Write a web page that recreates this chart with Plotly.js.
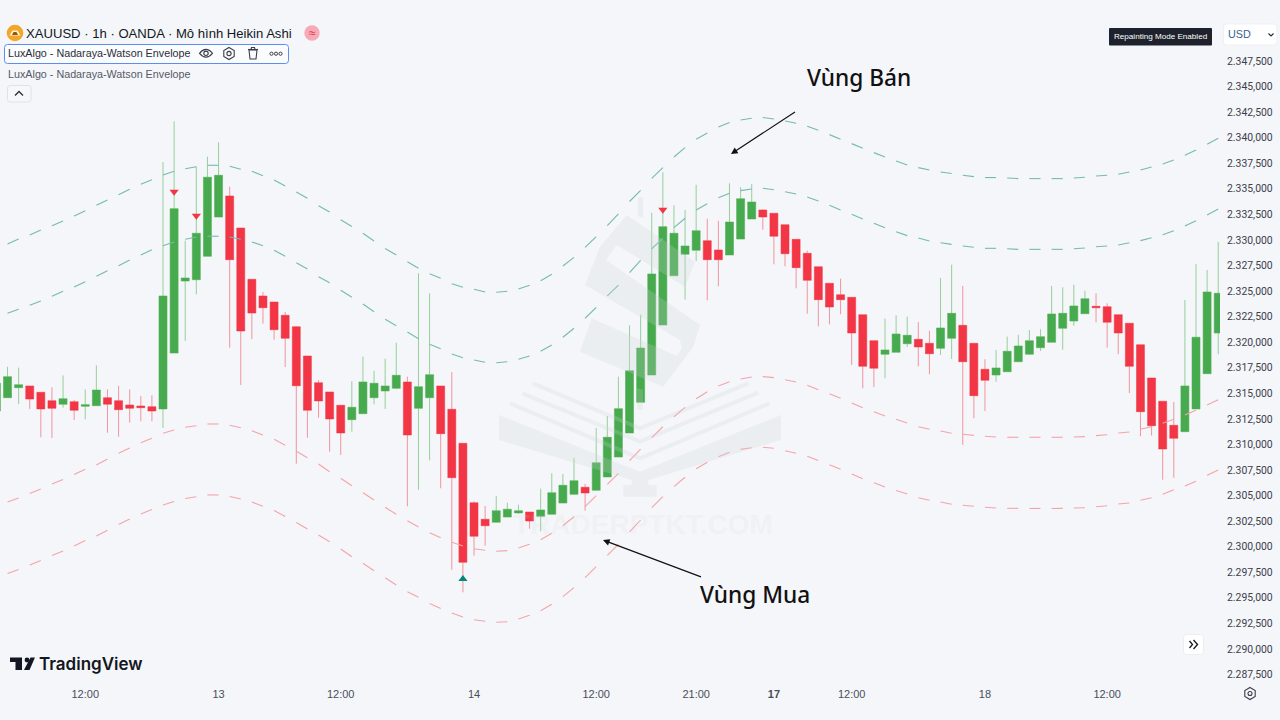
<!DOCTYPE html>
<html><head><meta charset="utf-8">
<script src="https://cdn.plot.ly/plotly-3.0.1.min.js"></script>
<style>html,body{margin:0;padding:0;background:#f4f6f9;overflow:hidden}#c{width:1280px;height:720px}</style>
</head><body><div id="c"></div>
<script>
// Heikin Ashi candles, one per bar (index 0..110)
const open_=[2313.27,2314.57,2315.55,2315.72,2315.10,2314.28,2313.93,2314.18,2313.73,2313.79,2314.57,2314.28,2313.86,2313.76,2313.69,2313.47,2318.94,2325.98,2326.11,2328.40,2332.24,2334.30,2331.17,2326.15,2324.52,2323.93,2322.63,2321.51,2318.65,2316.04,2315.13,2313.83,2312.42,2313.01,2314.57,2315.23,2315.49,2316.11,2313.53,2314.57,2315.72,2313.44,2310.11,2304.30,2302.68,2302.39,2302.90,2303.30,2303.39,2302.97,2303.17,2304.27,2305.12,2305.81,2305.52,2306.82,2308.77,2311.12,2314.12,2316.79,2321.68,2326.50,2328.60,2328.99,2329.93,2329.02,2328.53,2330.09,2332.05,2332.93,2332.61,2331.49,2330.06,2328.69,2327.38,2325.76,2324.64,2324.39,2322.69,2320.15,2318.82,2319.01,2319.85,2320.28,2319.89,2319.40,2320.38,2321.65,2319.89,2317.35,2316.79,2317.11,2318.09,2318.82,2319.46,2319.99,2321.36,2322.07,2322.79,2323.51,2323.47,2322.69,2321.85,2319.75,2316.50,2314.22,2311.87,2311.25,2313.47,2316.92,2320.90];
const high=[2316.50,2317.60,2317.51,2315.72,2315.10,2315.59,2316.76,2314.35,2315.39,2317.74,2315.39,2315.72,2315.39,2314.74,2314.81,2337.62,2341.60,2329.93,2337.16,2338.14,2339.55,2335.21,2331.17,2326.15,2324.91,2323.93,2322.95,2321.58,2318.65,2316.30,2315.13,2313.83,2316.18,2318.58,2317.21,2318.39,2319.95,2316.63,2326.74,2324.78,2315.72,2317.08,2310.11,2304.44,2303.98,2304.96,2304.30,2304.11,2303.39,2305.67,2307.18,2307.11,2308.67,2306.13,2311.61,2312.78,2316.63,2321.65,2322.69,2332.66,2336.62,2333.39,2332.93,2335.40,2332.08,2331.88,2335.54,2335.15,2335.47,2333.00,2332.61,2331.49,2330.06,2328.95,2327.38,2325.76,2326.21,2324.39,2322.69,2320.15,2322.30,2322.63,2322.49,2321.97,2321.12,2326.28,2327.58,2325.50,2319.89,2318.33,2319.24,2320.54,2320.73,2321.19,2321.26,2325.50,2325.37,2325.62,2325.04,2324.78,2323.80,2322.69,2321.85,2319.75,2316.50,2314.22,2314.15,2324.13,2327.65,2327.06,2329.80];
const low=[2313.27,2314.57,2313.96,2313.47,2310.70,2310.63,2313.59,2312.39,2312.46,2313.79,2311.15,2310.76,2312.13,2312.26,2312.26,2311.61,2318.94,2320.12,2324.68,2328.40,2332.24,2319.46,2315.81,2320.31,2321.81,2320.24,2317.57,2308.12,2310.66,2312.61,2309.29,2308.97,2311.25,2313.01,2313.93,2313.47,2315.39,2303.95,2305.57,2308.45,2305.71,2297.75,2295.54,2299.12,2300.10,2302.39,2302.90,2303.20,2301.76,2301.51,2303.17,2304.27,2305.06,2303.52,2305.52,2306.82,2308.77,2311.12,2314.12,2316.79,2321.68,2326.50,2324.16,2327.94,2324.10,2325.47,2328.53,2330.09,2332.05,2331.00,2327.62,2327.42,2325.27,2322.79,2321.55,2321.75,2322.73,2317.77,2315.49,2315.62,2316.47,2319.01,2319.53,2317.64,2316.86,2318.75,2318.36,2309.95,2312.56,2313.27,2316.14,2317.11,2318.09,2318.82,2319.14,2319.99,2319.27,2321.61,2322.79,2321.95,2319.46,2318.82,2315.03,2310.80,2310.86,2306.55,2306.75,2311.25,2313.47,2316.92,2318.82];
const close_=[2315.98,2316.63,2315.84,2314.44,2313.47,2313.53,2314.47,2313.34,2313.89,2315.32,2313.93,2313.40,2313.53,2313.59,2313.27,2324.52,2333.06,2326.28,2330.65,2336.13,2336.32,2328.07,2321.09,2322.85,2323.37,2321.22,2320.38,2315.74,2313.34,2314.25,2312.49,2311.12,2313.63,2316.11,2315.98,2315.72,2316.76,2310.92,2315.65,2316.82,2311.05,2306.75,2298.47,2301.02,2302.05,2303.52,2303.66,2303.52,2302.51,2303.59,2305.28,2306.00,2306.45,2305.25,2308.21,2310.70,2313.50,2317.21,2319.43,2326.67,2331.30,2330.65,2329.41,2330.90,2328.07,2328.07,2331.75,2334.03,2333.71,2332.24,2330.36,2328.65,2327.29,2326.05,2324.16,2323.44,2324.16,2320.90,2317.64,2317.45,2319.24,2320.80,2320.67,2319.53,2318.87,2321.39,2322.82,2318.09,2314.77,2316.27,2317.48,2319.11,2319.63,2320.15,2320.54,2322.76,2322.82,2323.54,2324.25,2323.37,2321.95,2320.90,2317.64,2313.20,2311.83,2309.55,2310.60,2315.72,2320.48,2324.91,2324.78];
// Nadaraya-Watson envelope lines, one value per bar from index 1 to 110
const upperOuter=[2329.60,2330.09,2330.48,2330.97,2331.39,2331.85,2332.34,2332.86,2333.39,2333.91,2334.42,2334.95,2335.44,2335.89,2336.35,2336.71,2336.97,2337.16,2337.30,2337.30,2337.20,2336.91,2336.71,2336.28,2335.86,2335.28,2334.69,2334.07,2333.35,2332.73,2331.98,2331.31,2330.65,2329.90,2329.16,2328.53,2327.87,2327.23,2326.70,2326.25,2325.72,2325.37,2325.17,2324.91,2324.88,2324.98,2325.20,2325.56,2326.01,2326.64,2327.45,2328.30,2329.28,2330.32,2331.39,2332.54,2333.76,2334.85,2336.03,2337.07,2338.11,2339.03,2339.84,2340.46,2341.05,2341.48,2341.73,2341.90,2341.97,2341.83,2341.63,2341.41,2341.11,2340.72,2340.30,2339.84,2339.42,2338.96,2338.54,2338.11,2337.72,2337.33,2337.07,2336.84,2336.64,2336.49,2336.32,2336.19,2336.10,2336.10,2336.06,2336.00,2336.00,2336.00,2336.00,2336.00,2336.06,2336.13,2336.25,2336.32,2336.42,2336.64,2336.84,2337.13,2337.43,2337.82,2338.28,2338.80,2339.35,2339.94];
const upperInner=[2322.83,2323.22,2323.61,2324.03,2324.49,2324.98,2325.40,2325.92,2326.44,2326.99,2327.48,2328.04,2328.53,2329.05,2329.44,2329.80,2330.06,2330.29,2330.36,2330.36,2330.29,2330.06,2329.80,2329.44,2328.99,2328.40,2327.77,2327.16,2326.41,2325.82,2325.08,2324.39,2323.73,2322.98,2322.24,2321.61,2321.00,2320.34,2319.79,2319.36,2318.84,2318.48,2318.26,2318.03,2317.99,2318.09,2318.33,2318.65,2319.11,2319.73,2320.48,2321.36,2322.34,2323.41,2324.52,2325.59,2326.80,2328.01,2329.14,2330.16,2331.20,2332.12,2332.93,2333.54,2334.13,2334.56,2334.82,2334.98,2335.05,2334.91,2334.72,2334.49,2334.20,2333.81,2333.39,2332.93,2332.51,2332.05,2331.63,2331.20,2330.81,2330.42,2330.19,2329.90,2329.73,2329.57,2329.41,2329.28,2329.18,2329.18,2329.14,2329.08,2329.08,2329.08,2329.08,2329.08,2329.14,2329.21,2329.34,2329.41,2329.51,2329.73,2329.93,2330.22,2330.51,2330.90,2331.36,2331.88,2332.44,2333.03];
const lowerInner=[2304.37,2304.76,2305.20,2305.64,2306.13,2306.57,2307.06,2307.57,2307.99,2308.58,2309.13,2309.65,2310.17,2310.60,2311.09,2311.41,2311.68,2311.83,2312.00,2312.00,2311.87,2311.64,2311.34,2310.92,2310.50,2309.92,2309.33,2308.70,2308.09,2307.33,2306.69,2305.96,2305.28,2304.57,2303.85,2303.17,2302.54,2301.93,2301.37,2300.88,2300.43,2300.07,2299.80,2299.65,2299.55,2299.61,2299.87,2300.23,2300.68,2301.31,2302.05,2302.93,2303.91,2304.99,2306.10,2307.18,2308.41,2309.55,2310.66,2311.73,2312.71,2313.63,2314.47,2315.16,2315.72,2316.14,2316.40,2316.60,2316.63,2316.53,2316.33,2316.11,2315.78,2315.35,2314.96,2314.51,2314.05,2313.59,2313.20,2312.78,2312.46,2312.10,2311.73,2311.48,2311.31,2311.09,2310.99,2310.89,2310.80,2310.73,2310.70,2310.70,2310.70,2310.70,2310.70,2310.70,2310.73,2310.76,2310.86,2310.95,2311.12,2311.22,2311.48,2311.73,2312.07,2312.46,2312.88,2313.34,2313.86,2314.38];
const lowerOuter=[2297.38,2297.77,2298.21,2298.65,2299.14,2299.58,2300.07,2300.61,2301.05,2301.60,2302.17,2302.71,2303.20,2303.64,2304.08,2304.42,2304.71,2304.89,2305.06,2305.06,2304.91,2304.66,2304.37,2303.95,2303.54,2302.95,2302.37,2301.73,2301.14,2300.49,2299.77,2299.02,2298.38,2297.65,2296.97,2296.25,2295.60,2295.05,2294.44,2293.96,2293.51,2293.12,2292.86,2292.70,2292.61,2292.66,2292.93,2293.29,2293.74,2294.37,2295.11,2295.99,2296.97,2298.04,2299.16,2300.23,2301.44,2302.61,2303.83,2304.89,2305.87,2306.79,2307.63,2308.25,2308.80,2309.23,2309.52,2309.68,2309.72,2309.62,2309.39,2309.13,2308.84,2308.43,2308.02,2307.57,2307.11,2306.65,2306.26,2305.84,2305.50,2305.15,2304.79,2304.54,2304.37,2304.15,2304.05,2303.95,2303.85,2303.78,2303.75,2303.75,2303.74,2303.74,2303.74,2303.75,2303.78,2303.81,2303.91,2304.01,2304.18,2304.27,2304.54,2304.79,2305.12,2305.57,2305.94,2306.40,2306.98,2307.50];
// signal markers
const sellBars=[16,18,60];
const sellPrices=[2334.72,2332.37,2332.96];
const buyBars=[42];
const buyPrices=[2296.84];
// tick labels
const yTickVals=[2347.5,2345,2342.5,2340,2337.5,2335,2332.5,2330,2327.5,2325,2322.5,2320,2317.5,2315,2312.5,2310,2307.5,2305,2302.5,2300,2297.5,2295,2292.5,2290,2287.5];
const yTickText=["2.347,500","2.345,000","2.342,500","2.340,000","2.337,500","2.335,000","2.332,500","2.330,000","2.327,500","2.325,000","2.322,500","2.320,000","2.317,500","2.315,000","2.312,500","2.310,000","2.307,500","2.305,000","2.302,500","2.300,000","2.297,500","2.295,000","2.292,500","2.290,000","2.287,500"];
const xTickVals=[8,20,31,43,54,63,70,77,89,100];
const xTickText=["12:00","13","12:00","14","12:00","21:00","<b>17</b>","12:00","18","12:00"];

const W=1220,H=680;
const bars=open_.map((_,i)=>i);
const px=x=>x/W, py=y=>1-y/H;
const pt=(x,y)=>px(x).toFixed(5)+' '+py(y).toFixed(5);
const poly=(pts,close=true)=>'M'+pts.map(p=>pt(p[0],p[1])).join(' L')+(close?' Z':'');
const shape=(path,fill,line,lw,layer)=>({type:'path',xref:'paper',yref:'paper',path,fillcolor:fill||'rgba(0,0,0,0)',line:{color:line||'rgba(0,0,0,0)',width:lw||0},layer:layer||'above'});
const rrect=(x0,y0,x1,y1,r)=>`M${pt(x0+r,y0)} L${pt(x1-r,y0)} Q${pt(x1,y0)} ${pt(x1,y0+r)} L${pt(x1,y1-r)} Q${pt(x1,y1)} ${pt(x1-r,y1)} L${pt(x0+r,y1)} Q${pt(x0,y1)} ${pt(x0,y1-r)} L${pt(x0,y0+r)} Q${pt(x0,y0)} ${pt(x0+r,y0)} Z`;
const circ=(cx,cy,r,fill,line,lw)=>({type:'circle',xref:'paper',yref:'paper',x0:px(cx-r),x1:px(cx+r),y0:py(cy+r),y1:py(cy-r),fillcolor:fill||'rgba(0,0,0,0)',line:{color:line||'rgba(0,0,0,0)',width:lw||0},layer:'above'});
const label=(x,y,text,size,color,anchor,family,weight)=>({xref:'paper',yref:'paper',x:px(x),y:py(y),text,showarrow:false,xanchor:anchor||'left',yanchor:'middle',align:anchor||'left',font:{size,color,family:family||'"Liberation Sans"',weight:weight||400}});

function envelope(values,color){
  const xs=[],ys=[];
  for(let k=0;k+1<values.length;k+=2){xs.push(k+1,k+2,null);ys.push(values[k],values[k+1],null);}
  return {type:'scatter',mode:'lines',x:xs,y:ys,line:{color,width:1.1},connectgaps:false,hoverinfo:'skip'};
}
const TEAL='#74bab3',SALMON='#f6a3a8';
const wm='rgba(208,211,214,0.23)';
const traces=[
  envelope(upperOuter,TEAL),envelope(upperInner,TEAL),envelope(lowerInner,SALMON),envelope(lowerOuter,SALMON),
  {type:'candlestick',x:bars,open:open_,high,low,close:close_,whiskerwidth:0,
   increasing:{line:{color:'rgba(76,175,80,0.55)',width:1},fillcolor:'#47aa4e'},
   decreasing:{line:{color:'rgba(242,54,69,0.5)',width:1},fillcolor:'#f23645'},hoverinfo:'skip'},
  {type:'scatter',mode:'markers',x:sellBars,y:sellPrices,marker:{symbol:'triangle-down',size:8,color:'#f23645',line:{width:0}},hoverinfo:'skip'},
  {type:'scatter',mode:'markers',x:buyBars,y:buyPrices,marker:{symbol:'triangle-up',size:8,color:'#00897b',line:{width:0}},hoverinfo:'skip'}
];
const shapes=[
  // watermark: dollar sign
  shape(poly([[626.7,215],[695,261.7],[685,286.7],[616.7,245],[606,260],[700,325],[693.3,346.7],[663.3,386.7],[580,351.7],[591.7,318.3],[676.7,356],[681.7,348.3],[680,340],[585,285],[600,246.7]]),wm),
  shape(poly([[638,197],[643,197],[643,218],[638,216]]),wm),
  shape(poly([[637,388],[643,390],[643,410],[637,410]]),wm),
  // watermark: book
  shape(poly([[499,415],[640,471.7],[781,415],[781,440],[648.3,480],[648.3,485],[656.7,485],[656.7,496.7],[623.3,496.7],[623.3,485],[631.7,485],[631.7,480],[499,440]]),wm),
  shape(poly([[510,403.3],[640,458.3],[769.3,403.3]],false),null,wm,4),
  shape(poly([[522.3,393.3],[640,441.7],[758.3,392.7]],false),null,wm,4),
  shape(poly([[532.7,383.3],[640,428.3],[748.3,383.3]],false),null,wm,4),
  // header
  circ(15,33,8.3,'#f2a62b'),
  shape(poly([[9.5,35.5],[12.5,30.5],[17.5,30.5],[20.5,35.5]]),'#fff2cf'),
  shape(poly([[13.5,32],[16.5,32],[18,35],[12,35]]),'#8a5a10'),
  circ(312,33,7.7,'#f7a9b5'),
  shape(rrect(4.5,44.5,288.5,63.5,3),'#fbfcfe','#5c8eea',1),
  // eye
  shape(`M${pt(199.5,53.3)} Q${pt(206,45.5)} ${pt(212.5,53.3)} Q${pt(206,61)} ${pt(199.5,53.3)} Z`,null,'#3a3e4a',1.1),
  circ(206,53.3,2.2,null,'#3a3e4a',1.1),
  // settings
  shape(poly([[229,47.5],[234.2,50.5],[234.2,56.5],[229,59.5],[223.8,56.5],[223.8,50.5]]),null,'#3a3e4a',1.1),
  circ(229,53.5,2.1,null,'#3a3e4a',1.1),
  // trash
  shape(poly([[249,50],[250,59],[256,59],[257,50]]),null,'#3a3e4a',1.1),
  shape(poly([[248,49.5],[258,49.5]],false),null,'#3a3e4a',1.1),
  shape(poly([[251,49.5],[251.5,47.5],[254.5,47.5],[255,49.5]],false),null,'#3a3e4a',1.1),
  // more
  circ(271.5,53.7,1.6,null,'#3a3e4a',1),circ(276,53.7,1.6,null,'#3a3e4a',1),circ(280.5,53.7,1.6,null,'#3a3e4a',1),
  // collapse button
  shape(rrect(7.5,85.5,31,102,2.5),'#f6f7f9','#dfe2e7',1),
  shape(poly([[15,95.5],[19,91.5],[23,95.5]],false),null,'#2a2e39',1.3),
  // repainting tag, currency box
  shape(rrect(1109,28,1212,45.5,1),'#1e222d'),
  shape(rrect(1223.5,24,1277,45,3),'#ffffff','#eef0f3',1),
  shape(poly([[1268.5,33.5],[1271,36],[1273.5,33.5]],false),null,'#2a2e39',1.2),
  // scroll button
  shape(rrect(1183.5,634.5,1203.5,654.5,3),'#ffffff','#eceef2',1),
  shape(poly([[1189.5,641],[1192.5,644.5],[1189.5,648]],false),null,'#131722',1.3),
  shape(poly([[1193.5,640],[1197.5,644.5],[1193.5,649]],false),null,'#131722',1.3),
  // axis settings
  shape(poly([[1250,687.5],[1255.2,690.5],[1255.2,696.5],[1250,699.5],[1244.8,696.5],[1244.8,690.5]]),null,'#3a3e4a',1.1),
  circ(1250,693.5,2,null,'#3a3e4a',1.1),
  // TradingView mark
  shape(poly([[10,657.5],[22,657.5],[22,670],[15.5,670],[15.5,662],[10,662]]),'#131722'),
  circ(27,660,2.4,'#131722'),
  shape(poly([[30.5,657.5],[35,657.5],[29.5,670],[24,670]]),'#131722')
];
const annotations=[
  label(643,524,'TRADERPTKT.COM',28,'rgba(205,208,212,0.14)','center','"Liberation Sans"',700),
  label(24,33,'XAUUSD · 1h · OANDA · Mô hình Heikin Ashi',13.1,'#131722'),
  label(312,33,'≈',12,'#e0324b','center'),
  label(6,53.5,'LuxAlgo - Nadaraya-Watson Envelope',10.75,'#2a2e39'),
  label(6,73.5,'LuxAlgo - Nadaraya-Watson Envelope',10.75,'#555a66'),
  label(1160.5,36.5,'Repainting Mode Enabled',8.1,'#ffffff','center'),
  label(1226,34,'USD',10.8,'#3d5f8f'),
  label(37,664,'TradingView',17,'#131722','left','Inter',600),
  label(859,77,'Vùng Bán',22.7,'#111111','center','"Noto Sans"',500),
  label(755,594,'Vùng Mua',22.7,'#111111','center','"Noto Sans"',500),
  {xref:'paper',yref:'paper',x:px(731),y:py(154),ax:67,ay:-44,text:' ',showarrow:true,arrowhead:2,arrowsize:1.1,arrowwidth:1.2,arrowcolor:'#111111'},
  {xref:'paper',yref:'paper',x:px(603),y:py(540),ax:101,ay:38,text:' ',showarrow:true,arrowhead:2,arrowsize:1.1,arrowwidth:1.2,arrowcolor:'#111111'}
];
const layout={
  width:1280,height:720,margin:{l:0,r:60,t:0,b:40,pad:0},
  paper_bgcolor:'#f4f6f9',plot_bgcolor:'#f4f6f9',showlegend:false,boxgap:0.28,boxgroupgap:0,
  xaxis:{type:'linear',range:[0.324,110.16],rangeslider:{visible:false},showgrid:false,zeroline:false,showline:false,
    tickmode:'array',tickvals:xTickVals,ticktext:xTickText,ticks:'',ticklabelstandoff:6,tickfont:{size:11,color:'#4a4e59',family:'"Liberation Sans"'},fixedrange:true},
  yaxis:{type:'linear',side:'right',range:[2286.962,2353.466],showgrid:false,zeroline:false,showline:false,
    tickmode:'array',tickvals:yTickVals,ticktext:yTickText,ticks:'',ticklabelstandoff:6,tickfont:{size:10.4,color:'#3c404b',family:'Roboto'},fixedrange:true},
  shapes,annotations
};
Plotly.newPlot('c',traces,layout,{staticPlot:true,displayModeBar:false});
</script></body></html>
